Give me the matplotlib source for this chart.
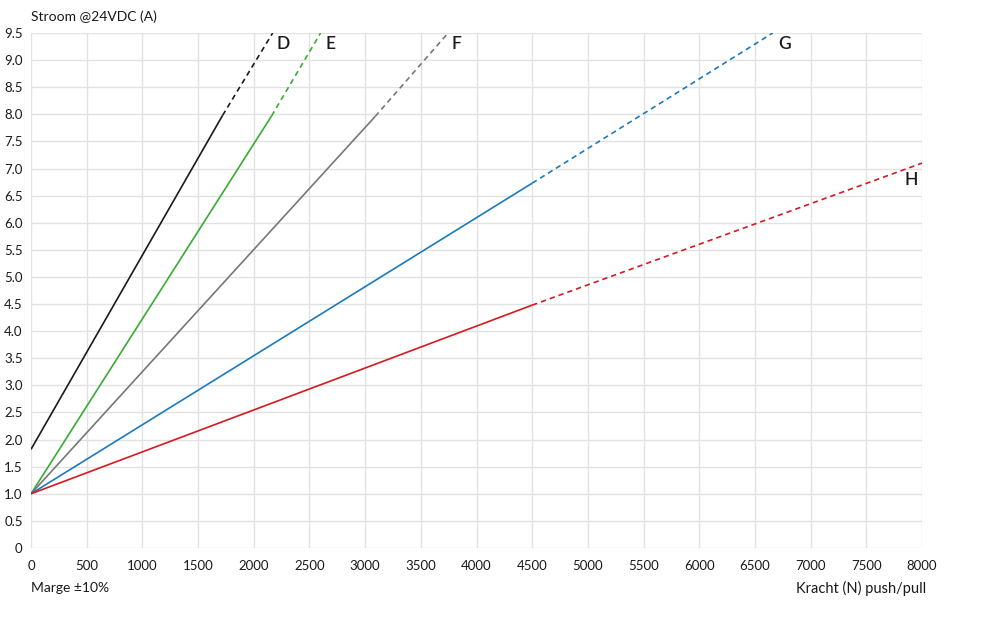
import matplotlib
matplotlib.use("Agg")
import matplotlib.pyplot as plt

plt.rcParams['font.family'] = ['Lato', 'DejaVu Sans']

# Series data: (force N, current A) solid part and dashed extrapolation
labels = ["D", "E", "F", "G", "H"]
colors = ["#1a1a1a", "#3aaa35", "#777777", "#1a7abf", "#d7191f"]
solid_x = [[0, 1720], [0, 2160], [0, 3090], [0, 4500], [0, 4500]]
solid_y = [[1.82, 7.98], [1.0, 7.97], [1.0, 7.96], [1.0, 6.73], [1.0, 4.48]]
dash_x = [[1720, 2170], [2160, 2600], [3090, 3745], [4500, 6660], [4500, 8000]]
dash_y = [[7.98, 9.5], [7.97, 9.5], [7.96, 9.5], [6.73, 9.5], [4.48, 7.1]]
label_pos = [(2200, 9.3), (2640, 9.3), (3780, 9.3), (6710, 9.3), (7960, 6.79)]

x_ticks = list(range(0, 8001, 500))
y_ticks = [i * 0.5 for i in range(0, 20)]
y_ticklabels = ["0"] + [f"{v:.1f}" for v in y_ticks[1:]]

fig = plt.figure(figsize=(9.99, 6.2), dpi=100)
ax = fig.add_axes([31 / 999, 72 / 620, (922 - 31) / 999, (548 - 33) / 620])

for i in range(len(labels)):
    ax.plot(solid_x[i], solid_y[i], color=colors[i], lw=1.2, solid_capstyle='butt')
    ax.plot(dash_x[i], dash_y[i], color=colors[i], lw=1.2, linestyle=(0, (3.2, 2.4)))
    ax.text(label_pos[i][0], label_pos[i][1], labels[i], fontsize=12.5, fontweight='semibold',
            color="#1a1a1a", ha="left" if i < 4 else "right", va="center")

ax.set_xlim(0, 8000)
ax.set_ylim(0, 9.5)
ax.set_xticks(x_ticks)
ax.set_xticklabels([str(v) for v in x_ticks])
ax.set_yticks(y_ticks)
ax.set_yticklabels(y_ticklabels)
ax.grid(True, color="#e2e2e2", lw=1.0)
ax.set_axisbelow(True)
for s in ax.spines.values():
    s.set_visible(False)
ax.tick_params(axis='both', length=0, labelsize=9.5, colors="#1a1a1a")
ax.tick_params(axis='x', pad=9)
ax.tick_params(axis='y', pad=6)

fig.text(31 / 999, 1 - 17 / 620, "Stroom @24VDC (A)", fontsize=10, color="#1a1a1a",
         ha="left", va="center")
fig.text(31 / 999, 1 - 588 / 620, "Marge ±10%", fontsize=10, color="#1a1a1a",
         ha="left", va="center")
fig.text(926 / 999, 1 - 588 / 620, "Kracht (N) push/pull", fontsize=10.5, color="#1a1a1a",
         ha="right", va="center")

fig.savefig("out.png", dpi=100)
